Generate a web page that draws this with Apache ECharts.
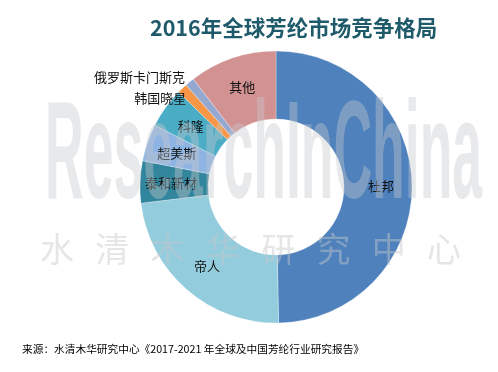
<!DOCTYPE html>
<html><head><meta charset="utf-8">
<script src="https://cdn.jsdelivr.net/npm/echarts@6/dist/echarts.min.js"></script>
<style>html,body{margin:0;padding:0;background:#fff}#c{width:498px;height:372px}</style>
</head><body><div id="c"></div>
<script>
var categories = ['杜邦','帝人','泰和新材','超美斯','科隆','韩国晓星','俄罗斯卡门斯克','其他'];
var values = [49.7, 23.4, 5.0, 4.4, 4.8, 1.2, 1.1, 10.4];
var colors = ['#4F81BD','#93CDDD','#31859C','#8EB4E3','#4BACC6','#F79646','#95A9D0','#D29292'];
var outsideLabels = ['韩国晓星','俄罗斯卡门斯克'];
var titleText = '2016年全球芳纶市场竞争格局';
var sourceText = '来源：水清木华研究中心《2017-2021 年全球及中国芳纶行业研究报告》';
var wmCn = ['水','清','木','华','研','究','中','心'];

var chart = echarts.init(document.getElementById('c'));
var data = categories.map(function(n,i){
  var d = {name:n, value:values[i], itemStyle:{color:colors[i]}};
  if (outsideLabels.indexOf(n) >= 0) {
    d.label = {position:'outside'};
    d.labelLine = {show:false, length:4, length2:0};
  }
  return d;
});
var labelShift = {'韩国晓星':[18,4], '俄罗斯卡门斯克':[3,-2]};
var graphics = [
  {type:'text', left:22, top:344, z:10, style:{text:sourceText, fill:'#000', font:'10.7px "Noto Sans CJK SC"'}},
  {type:'text', x:45, y:160, z:100, scaleX:0.535, scaleY:1.39, silent:true,
   style:{text:'ResearchInChina', font:'bold 100px "Liberation Sans"', fill:'#c5c8cd', opacity:0.4, verticalAlign:'middle'}}
];
wmCn.forEach(function(ch,i){
  graphics.push({type:'text', x:57+i*55.3, y:249, z:100, silent:true,
    style:{text:ch, font:'34px "Noto Sans CJK SC"', fill:'#c5c8cd', opacity:0.45, align:'center', verticalAlign:'middle'}});
});
chart.setOption({
  animation:false,
  title:{text:titleText, left:145, top:12,
    textStyle:{fontSize:21.5, fontWeight:'bold', color:'#1F5A6B', fontFamily:'"Noto Sans CJK SC"'}},
  graphic:graphics,
  series:[{
    type:'pie', center:[276,187], radius:[68,136], startAngle:90, clockwise:true,
    avoidLabelOverlap:true,
    itemStyle:{borderColor:'#fff', borderWidth:0.3},
    label:{show:true, position:'inside', color:'#111', fontSize:13, fontFamily:'"Noto Sans CJK SC"', formatter:'{b}'},
    labelLine:{show:false},
    labelLayout:function(p){
      var s = labelShift[p.text];
      return s ? {dx:s[0], dy:s[1]} : {};
    },
    data:data
  }]
});
</script></body></html>
